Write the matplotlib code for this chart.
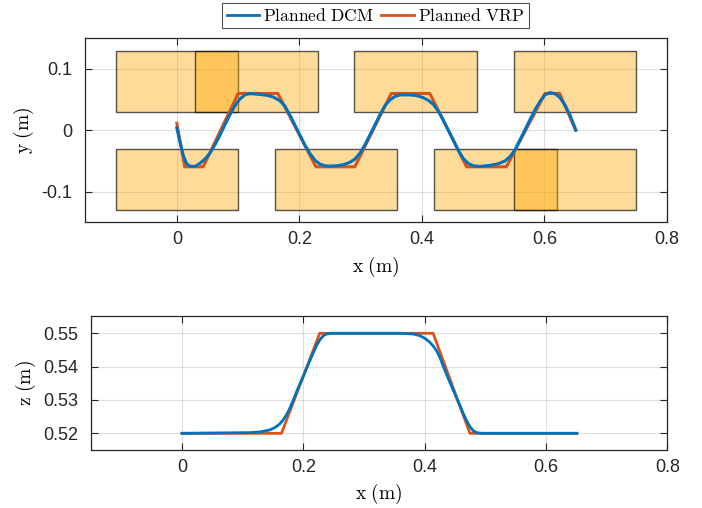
import matplotlib
matplotlib.use("Agg")
import matplotlib.pyplot as plt
from matplotlib.patches import Rectangle

# footstep centres (x, y), each 0.2 x 0.1 m
foot_x = [0.0, 0.13, 0.39, 0.65, 0.0, 0.26, 0.52, 0.65]
foot_y = [0.08, 0.08, 0.08, 0.08, -0.08, -0.08, -0.08, -0.08]
foot_len = 0.2
foot_wid = 0.1

# planned DCM, top view
dcm_x = [0.0, 0.0049, 0.0103, 0.0158, 0.0212, 0.029, 0.0376, 0.0457, 0.054, 0.062,
         0.070, 0.0784, 0.0865, 0.0947, 0.103, 0.111, 0.119, 0.130, 0.1464, 0.157,
         0.168, 0.176, 0.1845, 0.1927, 0.2008, 0.209, 0.2172, 0.2253, 0.2335, 0.2416,
         0.2498, 0.2607, 0.2716, 0.2824, 0.2906, 0.2988, 0.3069, 0.3151, 0.3233, 0.3314,
         0.3396, 0.3478, 0.3559, 0.3641, 0.3804, 0.3913, 0.4022, 0.4103, 0.4185, 0.4267,
         0.4348, 0.4430, 0.4512, 0.4593, 0.4675, 0.4757, 0.4838, 0.4947, 0.5110, 0.5246,
         0.5355, 0.5437, 0.5518, 0.5600, 0.5682, 0.5763, 0.5845, 0.5927, 0.6008, 0.6090,
         0.6171, 0.6253, 0.6335, 0.6416, 0.6514]
dcm_y = [0.004, -0.0186, -0.0404, -0.054, -0.0583, -0.059, -0.054, -0.0469, -0.0376, -0.024,
         -0.0088, 0.0087, 0.025, 0.040, 0.051, 0.0577, 0.0598, 0.059, 0.0572, 0.0544,
         0.0484, 0.040, 0.025, 0.0087, -0.0077, -0.024, -0.0376, -0.0485, -0.0551, -0.0578,
         -0.0583, -0.0578, -0.0561, -0.0523, -0.0469, -0.0376, -0.024, -0.0077, 0.0087, 0.025,
         0.040, 0.0495, 0.055, 0.0577, 0.0577, 0.0566, 0.0533, 0.049, 0.0425, 0.0315,
         0.0169, 0.0005, -0.0158, -0.0322, -0.0458, -0.054, -0.0578, -0.0589, -0.0572, -0.0545,
         -0.0501, -0.0431, -0.0322, -0.0158, 0.0005, 0.0169, 0.0332, 0.0468, 0.0577, 0.0615,
         0.0599, 0.0533, 0.0414, 0.025, 0.0005]

# planned VRP, top view
vrp_x = [0.0, 0.013, 0.043, 0.100, 0.165, 0.227, 0.2906, 0.350, 0.413, 0.473, 0.538,
         0.601, 0.625, 0.651]
vrp_y = [0.0114, -0.0595, -0.0595, 0.060, 0.060, -0.0595, -0.0595, 0.060, 0.060, -0.0595,
         -0.0595, 0.060, 0.060, 0.0]

# height profile
dcmz_x = [0.0, 0.1116, 0.1281, 0.1446, 0.1529, 0.1612, 0.1666, 0.1722, 0.1777, 0.1831,
          0.1913, 0.1996, 0.2078, 0.2161, 0.2217, 0.2271, 0.2326, 0.2382, 0.2464,
          0.3590, 0.3810, 0.3921, 0.4003, 0.4086, 0.4140, 0.4196, 0.4251, 0.4305, 0.4388,
          0.4470, 0.4553, 0.4635, 0.4691, 0.4746, 0.4800, 0.4856, 0.4939, 0.651]
dcmz_z = [0.52, 0.5202, 0.5204, 0.5210, 0.5217, 0.5228, 0.524, 0.5255, 0.5275, 0.5298,
          0.5335, 0.537, 0.5405, 0.544, 0.5463, 0.548, 0.5492, 0.5498, 0.55,
          0.55, 0.5498, 0.5493, 0.5485, 0.5473, 0.5462, 0.5448, 0.5428, 0.5402, 0.5365,
          0.533, 0.5295, 0.526, 0.5238, 0.522, 0.5208, 0.5202, 0.52, 0.52]
vrpz_x = [0.0, 0.164, 0.227, 0.414, 0.4746, 0.651]
vrpz_z = [0.52, 0.52, 0.55, 0.55, 0.52, 0.52]

BLUE = "#0072BD"
ORANGE = "#D95319"

plt.rcParams["mathtext.fontset"] = "cm"
plt.rcParams["font.family"] = ["Liberation Sans", "DejaVu Sans"]
plt.rcParams["axes.unicode_minus"] = False


def style_axes(ax):
    ax.tick_params(direction="in", length=5, width=0.8, top=True, right=True,
                   labelsize=13, colors="#262626")
    ax.tick_params(axis="x", pad=6.5)
    ax.tick_params(axis="y", pad=9)
    for s in ax.spines.values():
        s.set_color("#262626")
        s.set_linewidth(0.9)
    ax.grid(True, color="#262626", alpha=0.15, linewidth=0.8)
    ax.set_axisbelow(True)


fig = plt.figure(figsize=(7.02, 5.08), dpi=100)

ax1 = fig.add_axes([0.121, 0.5624, 0.829, 0.3622])
for cx, cy in zip(foot_x, foot_y):
    ax1.add_patch(Rectangle((cx - foot_len / 2, cy - foot_wid / 2), foot_len, foot_wid,
                            facecolor=(1, 0.65, 0, 0.4), edgecolor=(0, 0, 0, 0.65),
                            linewidth=1.0, zorder=1))
l2, = ax1.plot(vrp_x, vrp_y, color=ORANGE, linewidth=2.2, zorder=3)
l1, = ax1.plot(dcm_x, dcm_y, color=BLUE, linewidth=2.2, zorder=4)
ax1.set_xlim(-0.15, 0.8)
ax1.set_ylim(-0.15, 0.15)
ax1.set_xticks([0, 0.2, 0.4, 0.6, 0.8])
ax1.set_xticklabels(["0", "0.2", "0.4", "0.6", "0.8"])
ax1.set_yticks([-0.1, 0, 0.1])
ax1.set_yticklabels(["-0.1", "0", "0.1"])
ax1.set_xlabel(r"$\mathrm{x\ (m)}$", fontsize=14, labelpad=5)
ax1.set_ylabel(r"$\mathrm{y\ (m)}$", fontsize=14, labelpad=4)
style_axes(ax1)

ax2 = fig.add_axes([0.1296, 0.1142, 0.821, 0.2638])
ax2.plot(vrpz_x, vrpz_z, color=ORANGE, linewidth=2.0, zorder=3)
ax2.plot(dcmz_x, dcmz_z, color=BLUE, linewidth=2.0, zorder=4)
ax2.set_xlim(-0.15, 0.8)
ax2.set_ylim(0.515, 0.5552)
ax2.set_xticks([0, 0.2, 0.4, 0.6, 0.8])
ax2.set_xticklabels(["0", "0.2", "0.4", "0.6", "0.8"])
ax2.set_yticks([0.52, 0.53, 0.54, 0.55])
ax2.set_yticklabels(["0.52", "0.53", "0.54", "0.55"])
ax2.set_xlabel(r"$\mathrm{x\ (m)}$", fontsize=14, labelpad=4.5)
ax2.set_ylabel(r"$\mathrm{z\ (m)}$", fontsize=14, labelpad=4)
style_axes(ax2)

leg = fig.legend([l1, l2], [r"$\mathrm{Planned\ DCM}$", r"$\mathrm{Planned\ VRP}$"],
                 loc="center", bbox_to_anchor=(0.535, 0.9695), ncol=2, fontsize=12.6,
                 frameon=True, fancybox=False, edgecolor="#262626", handlelength=1.85,
                 handletextpad=0.25, columnspacing=0.4, borderpad=0.25, borderaxespad=0)
leg.get_frame().set_linewidth(0.8)
for ln in leg.get_lines():
    ln.set_linewidth(2.0)

fig.savefig("out.png", dpi=100)
